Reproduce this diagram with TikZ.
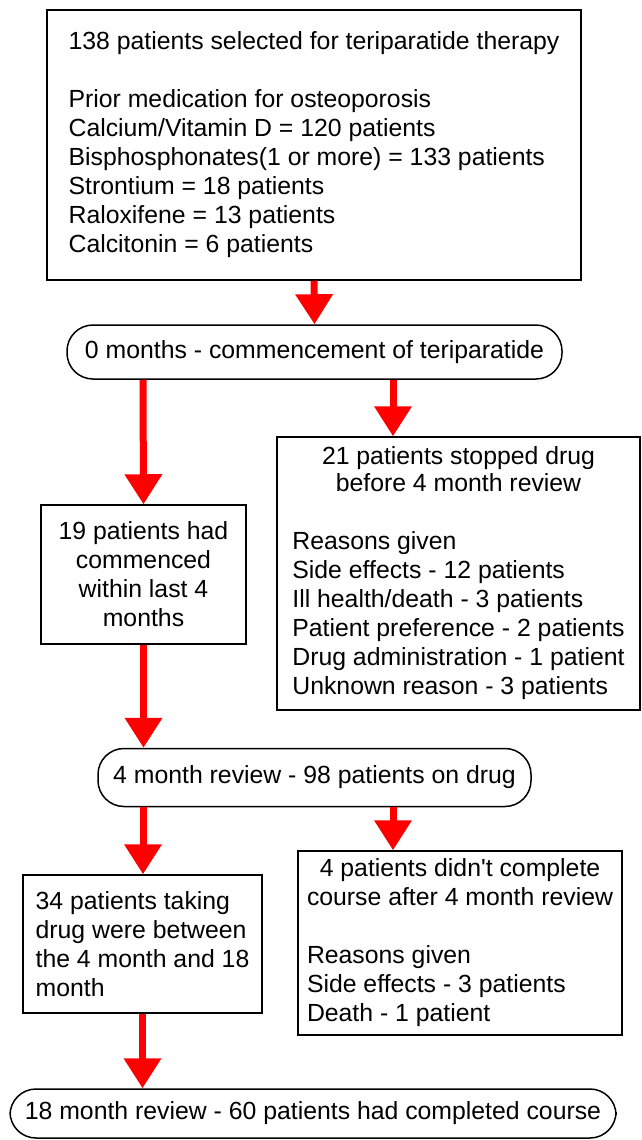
\documentclass[tikz,border=0pt]{standalone}
\usepackage{fontspec}
\setmainfont{Liberation Sans}
\usepackage{tikz}
\usetikzlibrary{arrows.meta}
\tikzset{
  box/.style={draw, line width=1.5pt, inner sep=0pt, font=\fontsize{24.8}{29}\selectfont},
  roundbox/.style={box, rounded corners=26pt, align=center},
  flowarrow/.style={draw=red, line width=7pt, -{Triangle[width=36pt,length=30pt]}}
}
\newcommand{\ctrline}[1]{\multicolumn{1}{@{}c@{}}{#1}}

\begin{document}
\begin{tikzpicture}[x=1pt, y=-1pt]
\useasboundingbox (0,0) rectangle (642,1140);
\coordinate (lcol) at (143,0);
\coordinate (rcol) at (393,0);
% boxes
\node[box, minimum width=534pt, minimum height=270pt] (select) at (314,145)
  {\begin{tabular}{@{}l@{\hspace{4pt}}}
   \ctrline{138 patients selected for teriparatide therapy}\\[29pt]
   Prior medication for osteoporosis\\
   Calcium/Vitamin D = 120 patients\\
   Bisphosphonates(1 or more) = 133 patients\\
   Strontium = 18 patients\\
   Raloxifene = 13 patients\\
   Calcitonin = 6 patients
   \end{tabular}};
\node[roundbox, minimum width=495pt, minimum height=54pt] (start) at (314.5,352) {0 months - commencement of teriparatide};
\node[box, align=center, minimum width=205pt, minimum height=139pt] (recent) at (143.5,574.5)
  {19 patients had\\ commenced\\ within last 4\\ months};
\node[box, minimum width=363pt, minimum height=273pt] (stopped) at (458.5,573.5)
  {\begin{tabular}{@{}l@{}}
   \ctrline{21 patients stopped drug}\\[-2pt]
   \ctrline{before 4 month review}\\[29pt]
   Reasons given\\
   Side effects - 12 patients\\
   Ill health/death - 3 patients\\
   Patient preference - 2 patients\\
   Drug administration - 1 patient\\
   Unknown reason - 3 patients
   \end{tabular}};
\node[roundbox, minimum width=433pt, minimum height=58pt] (review) at (314.5,777.5) {4 month review - 98 patients on drug};
\node[box, align=left, minimum width=239pt, minimum height=138pt] (between) at (142.5,944)
  {34 patients taking\\ drug were between\\ the 4 month and 18\\ month};
\node[box, minimum width=324pt, minimum height=184pt] (notdone) at (460,943)
  {\begin{tabular}{@{}l@{\hspace{12pt}}}
   \ctrline{4 patients didn\textquotesingle t complete}\\
   \ctrline{course after 4 month review}\\[29pt]
   Reasons given\\
   Side effects - 3 patients\\
   Death - 1 patient
   \end{tabular}};
\node[roundbox, minimum width=606pt, minimum height=49pt] (final) at (313,1113.5) {18 month review - 60 patients had completed course};
% arrows
\draw[flowarrow] (select.south) -- (start.north);
\draw[flowarrow] (start.south -| lcol) -- (recent.north);
\draw[flowarrow] (start.south -| rcol) -- (stopped.north -| rcol);
\draw[flowarrow] (recent.south) -- (review.north -| recent.south);
\draw[flowarrow] (review.south -| lcol) -- (between.north -| lcol);
\draw[flowarrow] (review.south -| rcol) -- (notdone.north -| rcol);
\draw[flowarrow] (between.south) -- (final.north -| between.south);
\end{tikzpicture}
\end{document}
